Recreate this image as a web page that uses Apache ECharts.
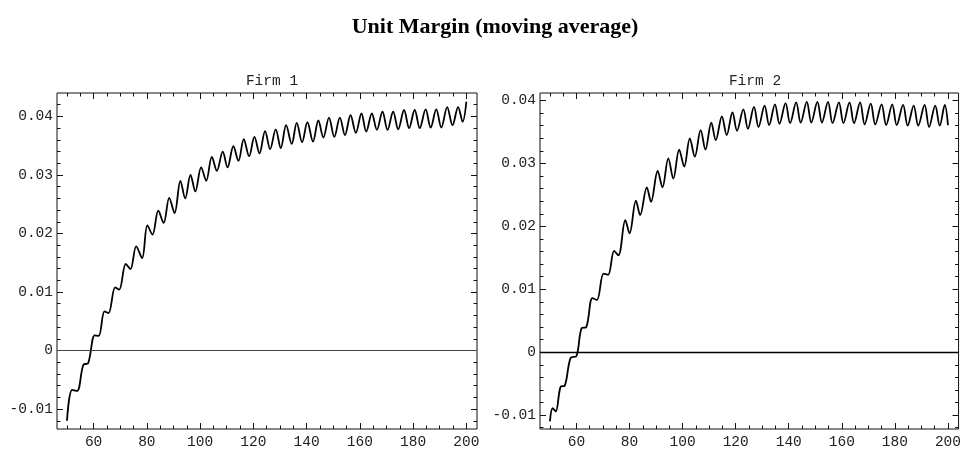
<!DOCTYPE html>
<html>
<head>
<meta charset="utf-8">
<script src="https://cdn.jsdelivr.net/npm/echarts@6/dist/echarts.min.js"></script>
<style>
html,body{margin:0;padding:0;background:#fff;}
#chart{width:964px;height:450px;}
</style>
</head>
<body>
<div id="chart"></div>
<script>
// ---- Data ----
const chartTitle = 'Unit Margin (moving average)';
const panelTitles = ['Firm 1', 'Firm 2'];

const xMajorTicks = [60, 80, 100, 120, 140, 160, 180, 200];
const xMinorTicks = [50, 55, 65, 70, 75, 85, 90, 95, 105, 110, 115, 125, 130, 135, 145, 150, 155, 165, 170, 175, 185, 190, 195];
const yMajorTicks = [-0.01, 0, 0.01, 0.02, 0.03, 0.04];
const yMinorTicks = [-0.012, -0.008, -0.006, -0.004, -0.002, 0.002, 0.004, 0.006, 0.008, 0.012, 0.014, 0.016, 0.018,
                     0.022, 0.024, 0.026, 0.028, 0.032, 0.034, 0.036, 0.038, 0.042];

// Firm 1 : turning points (peaks / troughs) of the moving average
const firm1X = [50, 51.9, 53.8, 56.2, 57.9, 60.4, 61.9, 64.1, 65.6, 68.1, 69.6, 72.1, 73.8, 76.0, 78.2,
  80.2, 82.1, 84.3, 86.3, 88.4, 90.4, 92.6, 94.4, 96.4, 98.2, 100.4, 102.3, 104.4, 106.3, 108.5, 110.3,
  112.5, 114.4, 116.4, 118.4, 120.4, 122.3, 124.4, 126.3, 128.4, 130.3, 132.3, 134.4, 136.3, 138.3,
  140.3, 142.4, 144.4, 146.3, 148.4, 150.4, 152.5, 154.4, 156.5, 158.5, 160.6, 162.4, 164.5, 166.4,
  168.5, 170.4, 172.5, 174.4, 176.6, 178.5, 180.6, 182.5, 184.7, 186.6, 188.7, 190.6, 192.8, 194.8,
  196.9, 198.6, 200];
const firm1Y = [-0.0120, -0.0067, -0.0069, -0.0024, -0.0022, 0.0026, 0.0025, 0.0067, 0.0064, 0.0108, 0.0104,
  0.0148, 0.0139, 0.0178, 0.0158, 0.0214, 0.0198, 0.0239, 0.0218, 0.0261, 0.0235, 0.0290, 0.0260, 0.0300,
  0.0272, 0.0313, 0.0290, 0.0331, 0.0307, 0.0340, 0.0313, 0.0349, 0.0324, 0.0361, 0.0332, 0.0365, 0.0337,
  0.0375, 0.0344, 0.0378, 0.0346, 0.0385, 0.0353, 0.0389, 0.0356, 0.0390, 0.0357, 0.0393, 0.0364, 0.0398,
  0.0365, 0.0398, 0.0368, 0.0402, 0.0372, 0.0405, 0.0374, 0.0405, 0.0377, 0.0408, 0.0377, 0.0408, 0.0378,
  0.0411, 0.0380, 0.0411, 0.0380, 0.0412, 0.0381, 0.0412, 0.0381, 0.0416, 0.0385, 0.0416, 0.0391, 0.0425];

// Firm 2
const firm2X = [50, 51.0, 52.2, 54.0, 55.6, 57.8, 60.0, 61.9, 63.7, 66.0, 67.7, 70.2, 71.9, 74.2, 75.8,
  78.4, 80.0, 82.4, 84.0, 86.5, 88.1, 90.6, 92.4, 94.6, 96.5, 98.7, 100.6, 102.7, 104.6, 106.8, 108.6,
  110.8, 112.5, 114.8, 116.6, 118.8, 120.5, 122.9, 124.6, 126.9, 128.6, 130.9, 132.6, 134.8, 136.5,
  138.8, 140.5, 142.8, 144.5, 146.8, 148.5, 150.8, 152.5, 154.8, 156.5, 158.9, 160.6, 162.9, 164.6,
  166.9, 168.6, 170.9, 172.6, 175.0, 176.7, 179.0, 180.7, 183.1, 184.8, 187.1, 188.8, 191.2, 192.9,
  195.2, 196.9, 198.8, 200];
const firm2Y = [-0.0110, -0.0089, -0.0094, -0.0055, -0.0053, -0.0009, -0.0006, 0.0038, 0.0040, 0.0086, 0.0083,
  0.0125, 0.0123, 0.0161, 0.0154, 0.0210, 0.0189, 0.0241, 0.0218, 0.0262, 0.0239, 0.0288, 0.0262, 0.0308,
  0.0276, 0.0322, 0.0295, 0.0340, 0.0311, 0.0353, 0.0322, 0.0365, 0.0337, 0.0375, 0.0345, 0.0381, 0.0352,
  0.0386, 0.0355, 0.0390, 0.0358, 0.0392, 0.0361, 0.0394, 0.0363, 0.0396, 0.0364, 0.0397, 0.0365, 0.0398,
  0.0365, 0.0398, 0.0365, 0.0398, 0.0364, 0.0397, 0.0364, 0.0397, 0.0364, 0.0397, 0.0362, 0.0395, 0.0362,
  0.0394, 0.0361, 0.0394, 0.0361, 0.0393, 0.0360, 0.0392, 0.0360, 0.0393, 0.0358, 0.0392, 0.0360, 0.0393,
  0.0361];

// ---- Layout / styling ----
const xRange = [46.25, 204];
const yRanges = [[-0.0134, 0.044], [-0.0122, 0.0412]];
const grids = [
  {left: 57, top: 93, width: 420, height: 337},
  {left: 540, top: 93, width: 420, height: 337}
];
const monoFont = '"Liberation Mono", "Courier New", monospace';
const inkColor = '#111';

function fmtNum(v) { return String(Math.round(v * 10000) / 10000); }

function makeAxes(dim, g, range, major, minor) {
  const positions = dim === 'x' ? ['bottom', 'top'] : ['left', 'right'];
  const lo = Math.min(range[0], range[1]), hi = Math.max(range[0], range[1]);
  const minorIn = minor.filter(v => v > lo && v < hi);
  const axes = [];
  positions.forEach((pos, pi) => {
    [true, false].forEach(isMajor => {
      axes.push({
        type: 'value',
        gridIndex: g,
        position: pos,
        min: range[0],
        max: range[1],
        axisLine: {show: false, onZero: false},
        splitLine: {show: false},
        axisTick: {
          show: true, inside: true, length: isMajor ? 6 : 3.5,
          customValues: isMajor ? major : minorIn,
          lineStyle: {color: inkColor, width: 1}
        },
        axisLabel: (pi === 0 && isMajor) ? {
          show: true, customValues: major, formatter: fmtNum,
          fontFamily: monoFont, fontSize: 14.5, color: '#222',
          margin: dim === 'x' ? 6 : 4
        } : {show: false},
        axisPointer: {show: false}
      });
    });
  });
  return axes;
}

const xAxes = [], yAxes = [];
[0, 1].forEach(g => {
  xAxes.push(...makeAxes('x', g, xRange, xMajorTicks, xMinorTicks));
  yAxes.push(...makeAxes('y', g, yRanges[g], yMajorTicks, yMinorTicks));
});

function pairs(xs, ys) { return xs.map((x, i) => [x, ys[i]]); }

const zeroLineStyles = [{color: '#444', width: 1}, {color: '#000', width: 1.3}];

const series = [pairs(firm1X, firm1Y), pairs(firm2X, firm2Y)].map((d, g) => ({
  type: 'line',
  xAxisIndex: g * 4,
  yAxisIndex: g * 4,
  data: d,
  smooth: 0.35,
  symbol: 'none',
  showSymbol: false,
  lineStyle: {color: '#000', width: 1.8},
  silent: true,
  markLine: {
    silent: true,
    symbol: 'none',
    label: {show: false},
    lineStyle: Object.assign({type: 'solid'}, zeroLineStyles[g]),
    data: [{yAxis: 0}],
    animation: false
  },
  z: 3
}));

const chart = echarts.init(document.getElementById('chart'), null, {renderer: 'canvas'});
chart.setOption({
  animation: false,
  backgroundColor: '#fff',
  title: [
    {text: chartTitle, left: 490, top: 11, textAlign: 'center',
     textStyle: {fontFamily: '"Liberation Serif", "Times New Roman", serif', fontWeight: 'bold', fontSize: 22, color: '#000'}},
    {text: panelTitles[0], left: 267, top: 69, textAlign: 'center',
     textStyle: {fontFamily: monoFont, fontWeight: 'normal', fontSize: 14.5, color: '#222'}},
    {text: panelTitles[1], left: 750, top: 69, textAlign: 'center',
     textStyle: {fontFamily: monoFont, fontWeight: 'normal', fontSize: 14.5, color: '#222'}}
  ],
  grid: grids.map(gr => Object.assign({show: true, borderColor: inkColor, borderWidth: 1, backgroundColor: 'transparent', containLabel: false}, gr)),
  xAxis: xAxes,
  yAxis: yAxes,
  series: series
});
</script>
</body>
</html>
